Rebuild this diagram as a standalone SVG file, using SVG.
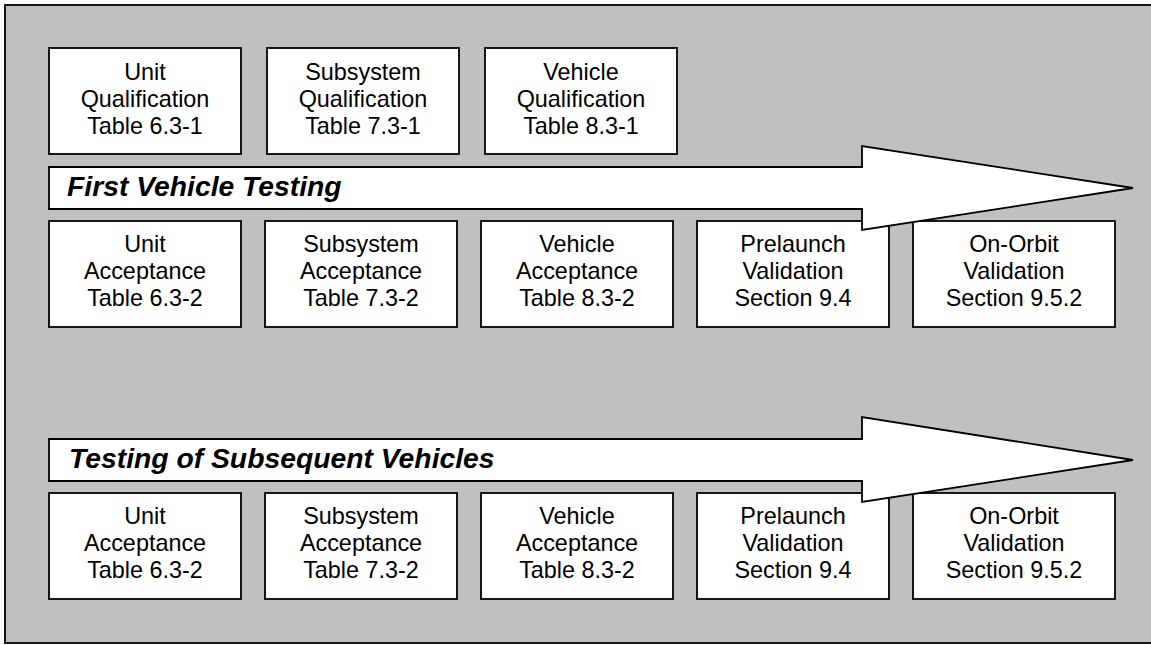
<svg xmlns="http://www.w3.org/2000/svg" width="1151" height="645" viewBox="0 0 1151 645">
<style>
.box{fill:#fff;stroke:#000;stroke-width:1.8}
.arr{fill:#fff;stroke:#000;stroke-width:1.8;stroke-linejoin:miter}
.t{font-family:"Liberation Sans",Arial,sans-serif;font-size:23.4px;text-anchor:middle;fill:#000}
.h{font-family:"Liberation Sans",Arial,sans-serif;font-size:28.3px;font-weight:bold;font-style:italic;fill:#000}
</style>
<rect x="5" y="5" width="1160" height="638" fill="#c0c0c0" stroke="#000" stroke-width="1.8"/>
<g id="uq"><rect class="box" x="49" y="48" width="192" height="106"/><text class="t"><tspan x="145" y="80">Unit</tspan><tspan x="145" y="107">Qualification</tspan><tspan x="145" y="134">Table 6.3-1</tspan></text></g>
<g id="sq"><rect class="box" x="267" y="48" width="192" height="106"/><text class="t"><tspan x="363" y="80">Subsystem</tspan><tspan x="363" y="107">Qualification</tspan><tspan x="363" y="134">Table 7.3-1</tspan></text></g>
<g id="vq"><rect class="box" x="485" y="48" width="192" height="106"/><text class="t"><tspan x="581" y="80">Vehicle</tspan><tspan x="581" y="107">Qualification</tspan><tspan x="581" y="134">Table 8.3-1</tspan></text></g>
<g id="ua1"><rect class="box" x="49" y="221" width="192" height="106"/><text class="t"><tspan x="145" y="252">Unit</tspan><tspan x="145" y="279">Acceptance</tspan><tspan x="145" y="306">Table 6.3-2</tspan></text></g>
<g id="sa1"><rect class="box" x="265" y="221" width="192" height="106"/><text class="t"><tspan x="361" y="252">Subsystem</tspan><tspan x="361" y="279">Acceptance</tspan><tspan x="361" y="306">Table 7.3-2</tspan></text></g>
<g id="va1"><rect class="box" x="481" y="221" width="192" height="106"/><text class="t"><tspan x="577" y="252">Vehicle</tspan><tspan x="577" y="279">Acceptance</tspan><tspan x="577" y="306">Table 8.3-2</tspan></text></g>
<g id="pl1"><rect class="box" x="697" y="221" width="192" height="106"/><text class="t"><tspan x="793" y="252">Prelaunch</tspan><tspan x="793" y="279">Validation</tspan><tspan x="793" y="306">Section 9.4</tspan></text></g>
<g id="oo1"><rect class="box" x="913" y="221" width="202" height="106"/><text class="t"><tspan x="1014" y="252">On-Orbit</tspan><tspan x="1014" y="279">Validation</tspan><tspan x="1014" y="306">Section 9.5.2</tspan></text></g>
<g id="ua2"><rect class="box" x="49" y="493" width="192" height="106"/><text class="t"><tspan x="145" y="524">Unit</tspan><tspan x="145" y="551">Acceptance</tspan><tspan x="145" y="578">Table 6.3-2</tspan></text></g>
<g id="sa2"><rect class="box" x="265" y="493" width="192" height="106"/><text class="t"><tspan x="361" y="524">Subsystem</tspan><tspan x="361" y="551">Acceptance</tspan><tspan x="361" y="578">Table 7.3-2</tspan></text></g>
<g id="va2"><rect class="box" x="481" y="493" width="192" height="106"/><text class="t"><tspan x="577" y="524">Vehicle</tspan><tspan x="577" y="551">Acceptance</tspan><tspan x="577" y="578">Table 8.3-2</tspan></text></g>
<g id="pl2"><rect class="box" x="697" y="493" width="192" height="106"/><text class="t"><tspan x="793" y="524">Prelaunch</tspan><tspan x="793" y="551">Validation</tspan><tspan x="793" y="578">Section 9.4</tspan></text></g>
<g id="oo2"><rect class="box" x="913" y="493" width="202" height="106"/><text class="t"><tspan x="1014" y="524">On-Orbit</tspan><tspan x="1014" y="551">Validation</tspan><tspan x="1014" y="578">Section 9.5.2</tspan></text></g>
<g id="connectors">
<g id="arrow1"><path class="arr" d="M49,167 H862 V146 L1133,188 L862,230 V209 H49 Z"/><text class="h" x="67" y="196">First Vehicle Testing</text></g>
<g id="arrow2"><path class="arr" d="M49,439 H862 V417 L1133,460 L862,502 V481 H49 Z"/><text class="h" x="69" y="468">Testing of Subsequent Vehicles</text></g>
</g>
</svg>
